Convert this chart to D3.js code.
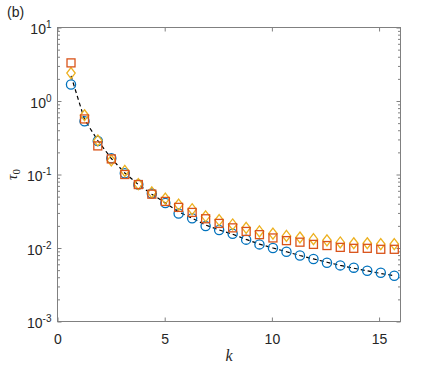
<!DOCTYPE html>
<html>
<head>
<meta charset="utf-8">
<script src="https://cdn.jsdelivr.net/npm/d3@7"></script>
<style>
  body { margin: 0; background: #fff; }
  svg { font-family: "Liberation Sans", Arial, sans-serif; }
</style>
</head>
<body>
<div id="chart"></div>
<script>
// data
var kValues = [0.63, 1.26, 1.88, 2.51, 3.14, 3.77, 4.40, 5.03, 5.65, 6.28, 6.91, 7.54, 8.17,
  8.80, 9.42, 10.05, 10.68, 11.31, 11.94, 12.57, 13.19, 13.82, 14.45, 15.08, 15.71]
var circleVals = [1.68, 0.53, 0.285, 0.166, 0.104, 0.073, 0.055, 0.041, 0.0295, 0.0254, 0.0199, 0.0176,
  0.0156, 0.0130, 0.0112, 0.0100, 0.0089, 0.0079, 0.0071, 0.0063, 0.0058, 0.0054, 0.0049, 0.0046, 0.0042]
var squareVals = [3.3, 0.57, 0.245, 0.163, 0.100, 0.073, 0.054, 0.043, 0.0357, 0.0305, 0.0250, 0.0216,
  0.0188, 0.0168, 0.0152, 0.0137, 0.0126, 0.0120, 0.0112, 0.0108, 0.0102, 0.0099, 0.0099, 0.0096, 0.0096]
var diamondVals = [2.4, 0.64, 0.29, 0.155, 0.112, 0.074, 0.057, 0.047, 0.039, 0.0337, 0.0270, 0.0240,
  0.0209, 0.0188, 0.0168, 0.0157, 0.0146, 0.0139, 0.0132, 0.0127, 0.0119, 0.0116, 0.0116, 0.0113, 0.0113]
var lineVals = [2.2, 0.56, 0.29, 0.165, 0.105, 0.073, 0.054, 0.041, 0.031, 0.0255, 0.0205, 0.0176,
  0.0154, 0.0131, 0.0113, 0.0100, 0.0089, 0.0079, 0.0071, 0.0064, 0.0058, 0.0053, 0.0049, 0.0045, 0.0042]
var xTicks = [0, 5, 10, 15]
var yTicks = [1e-3, 1e-2, 1e-1, 1e0, 1e1]
var yExponents = ['-3', '-2', '-1', '0', '1']

// margin and size
var margin = { top: 27.5, bottom: 46.5, left: 57.5, right: 42.5 }
var W = 443, H = 368
var width = W - margin.left - margin.right
var height = H - margin.top - margin.bottom

var root = d3.select('#chart').append('svg').attr('width', W).attr('height', H)
var svg = root.append('g').attr('transform', 'translate(' + margin.left + ',' + margin.top + ')')

var x = d3.scaleLinear().domain([0, 16]).range([0, width])
var y = d3.scaleLog().domain([1e-3, 10]).range([height, 0])

var minorTicks = []
for (var e = -3; e < 1; e++) {
  for (var m = 2; m < 10; m++) minorTicks.push(m * Math.pow(10, e))
}

var axisColor = '#808080'
var textColor = '#262626'

function styleAxis (g) {
  g.select('.domain').remove()
  g.selectAll('line').attr('stroke', axisColor)
  g.selectAll('text').attr('fill', textColor).attr('font-size', '14px')
}

// bottom / top axis
svg.append('g').attr('transform', 'translate(0,' + height + ')')
  .call(d3.axisBottom(x).tickValues(xTicks).tickSize(-4).tickPadding(10).tickFormat(d3.format('d')))
  .call(styleAxis)
  .selectAll('text').attr('dy', '0.9em')
svg.append('g')
  .call(d3.axisTop(x).tickValues(xTicks).tickSize(-4).tickFormat(''))
  .call(styleAxis)

// left axis with superscript labels
var yAxisG = svg.append('g')
  .call(d3.axisLeft(y).tickValues(yTicks).tickSize(-4).tickPadding(6).tickFormat(''))
  .call(styleAxis)
yAxisG.selectAll('.tick text')
  .attr('font-size', '14px')
  .attr('dy', '0.45em')
  .each(function (d, i) {
    var t = d3.select(this)
    t.text(null)
    t.append('tspan').text('10')
    t.append('tspan').attr('font-size', '10px').attr('dy', '-0.6em').text(yExponents[i])
  })
svg.append('g').call(d3.axisLeft(y).tickValues(minorTicks).tickSize(-2.5).tickFormat('')).call(styleAxis)

// right axis
svg.append('g').attr('transform', 'translate(' + width + ',0)')
  .call(d3.axisRight(y).tickValues(yTicks).tickSize(-4).tickFormat('')).call(styleAxis)
svg.append('g').attr('transform', 'translate(' + width + ',0)')
  .call(d3.axisRight(y).tickValues(minorTicks).tickSize(-2.5).tickFormat('')).call(styleAxis)

// box
svg.append('rect').attr('width', width).attr('height', height)
  .attr('fill', 'none').attr('stroke', axisColor).attr('stroke-width', 1)

// dashed line
var line = d3.line().x(function (d, i) { return x(kValues[i]) }).y(function (d) { return y(d) })
svg.append('path').datum(lineVals).attr('d', line)
  .attr('fill', 'none').attr('stroke', '#000').attr('stroke-width', 1.2).attr('stroke-dasharray', '4,3')

// markers
svg.selectAll('.circ').data(circleVals).enter().append('circle').attr('class', 'circ')
  .attr('cx', function (d, i) { return x(kValues[i]) })
  .attr('cy', function (d) { return y(d) })
  .attr('r', 4.6)
  .attr('fill', 'none').attr('stroke', '#0072BD').attr('stroke-width', 1.3)

svg.selectAll('.diam').data(diamondVals).enter().append('path').attr('class', 'diam')
  .attr('d', function (d, i) {
    var cx = x(kValues[i]), cy = y(d)
    return 'M' + cx + ',' + (cy - 5.5) + 'L' + (cx + 4.2) + ',' + cy + 'L' + cx + ',' + (cy + 5.5) + 'L' + (cx - 4.2) + ',' + cy + 'Z'
  })
  .attr('fill', 'none').attr('stroke', '#EDB120').attr('stroke-width', 1.3)

svg.selectAll('.sq').data(squareVals).enter().append('rect').attr('class', 'sq')
  .attr('x', function (d, i) { return x(kValues[i]) - 4 })
  .attr('y', function (d) { return y(d) - 4 })
  .attr('width', 8).attr('height', 8)
  .attr('fill', 'none').attr('stroke', '#D95319').attr('stroke-width', 1.3)

// axis titles
svg.append('text')
  .attr('x', width / 2).attr('y', height + 39)
  .attr('text-anchor', 'middle')
  .attr('font-family', '"Liberation Serif", "DejaVu Serif", serif')
  .attr('font-style', 'italic').attr('font-size', '16px').attr('fill', textColor)
  .text('k')

var yl = root.append('text')
  .attr('transform', 'translate(17,' + (margin.top + height / 2) + ') rotate(-90)')
  .attr('text-anchor', 'middle')
  .attr('font-family', '"Liberation Serif", "DejaVu Serif", serif')
  .attr('font-size', '15px').attr('fill', textColor)
yl.append('tspan').attr('font-style', 'italic').text('τ')
yl.append('tspan').attr('font-size', '11px').attr('dy', '0.3em').text('0')

// panel label
root.append('text').attr('x', 7).attr('y', 17)
  .attr('font-size', '14px').attr('fill', textColor)
  .text('(b)')
</script>
</body>
</html>
